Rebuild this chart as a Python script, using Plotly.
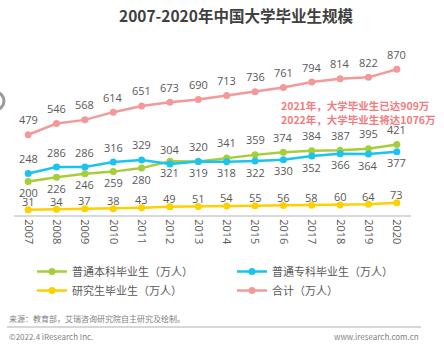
import plotly.graph_objects as go

years = [str(y) for y in range(2007, 2021)]
benke = [200, 226, 246, 259, 280, 321, 319, 341, 359, 374, 384, 387, 395, 421]
zhuanke = [248, 286, 286, 316, 329, 304, 320, 318, 322, 330, 352, 366, 364, 377]
yanjiusheng = [31, 34, 37, 38, 43, 49, 51, 54, 55, 56, 58, 60, 64, 73]
total = [479, 546, 568, 614, 651, 673, 690, 713, 736, 761, 794, 814, 822, 870]

names = ["普通本科毕业生（万人）", "普通专科毕业生（万人）", "研究生毕业生（万人）", "合计（万人）"]
colors = ["#A6CE39", "#1BC3EF", "#FFD000", "#F4999A"]
series = [benke, zhuanke, yanjiusheng, total]
legend_ids = ["legend", "legend2", "legend", "legend2"]

W, H = 444, 350
L, R, T, B = 14, 33, 45, 135
pw, ph = W - L - R, H - T - B

fig = go.Figure()
for nm, col, vals, lg in zip(names, colors, series, legend_ids):
    fig.add_trace(go.Scatter(
        x=years, y=vals, name=nm, mode="lines+markers", legend=lg,
        line=dict(color=col, width=2.5), marker=dict(color=col, size=7),
        hoverinfo="skip"))

lab_font = dict(family="Open Sans, Noto Sans CJK SC", size=11, color="#595959")
ann = []
for i, yr in enumerate(years):
    ann.append(dict(x=i, y=total[i], text=str(total[i]), showarrow=False, yshift=15, font=lab_font))
    above_blue = i <= 6
    ann.append(dict(x=i, y=zhuanke[i], text=str(zhuanke[i]), showarrow=False,
                    yshift=15 if above_blue else -11, font=lab_font))
    ann.append(dict(x=i, y=benke[i], text=str(benke[i]), showarrow=False,
                    yshift=-11 if above_blue else 15, font=lab_font))
    ann.append(dict(x=i, y=yanjiusheng[i], text=str(yanjiusheng[i]), showarrow=False,
                    yshift=8, font=lab_font))

def px(x):
    return (x - L) / pw

def py(y):
    return (H - B - y) / ph

ann.append(dict(xref="paper", yref="paper", x=px(438), y=py(112), xanchor="right", yanchor="middle",
                text="<b>2021年，大学毕业生已达909万<br>2022年，大学毕业生将达1076万</b>",
                showarrow=False, align="left",
                font=dict(family="Noto Sans CJK SC", size=10.5, color="#EF7D7E")))
ann.append(dict(xref="paper", yref="paper", x=px(236), y=py(15), xanchor="center", yanchor="middle",
                text="<b>2007-2020年中国大学毕业生规模</b>", showarrow=False,
                font=dict(family="Noto Sans CJK SC", size=15.5, color="#404040")))
foot = dict(family="Noto Sans CJK SC", size=8, color="#7F7F7F")
ann.append(dict(xref="paper", yref="paper", x=px(7), y=py(318), xanchor="left", yanchor="middle",
                text="来源：教育部，艾瑞咨询研究院自主研究及绘制。", showarrow=False, font=foot))
ann.append(dict(xref="paper", yref="paper", x=px(7), y=py(336), xanchor="left", yanchor="middle",
                text="©2022.4 iResearch Inc.", showarrow=False, font=foot))
ann.append(dict(xref="paper", yref="paper", x=px(421), y=py(336), xanchor="right", yanchor="middle",
                text="www.iresearch.com.cn", showarrow=False, font=foot))

shapes = [
    dict(type="line", xref="paper", yref="paper", x0=px(7), x1=px(421), y0=py(327), y1=py(327),
         line=dict(color="#B0B0B0", width=1.2)),
    dict(type="circle", xref="paper", yref="paper", x0=px(-14), x1=px(4), y0=py(110), y1=py(92),
         line=dict(color="#9A9A9A", width=3)),
]

leg_common = dict(orientation="v", xanchor="left", yanchor="top", itemwidth=30,
                  font=dict(family="Noto Sans CJK SC", size=11, color="#595959"),
                  tracegroupgap=0, bgcolor="rgba(0,0,0,0)")

fig.update_layout(
    width=W, height=H,
    margin=dict(l=L, r=R, t=T, b=B),
    paper_bgcolor="white", plot_bgcolor="white",
    showlegend=True,
    legend=dict(x=px(32), y=py(257), **leg_common),
    legend2=dict(x=px(232), y=py(257), **leg_common),
    annotations=ann, shapes=shapes,
    xaxis=dict(type="category", range=[-0.5, 13.5], showgrid=False, zeroline=False,
               showline=True, linecolor="#D9D9D9", linewidth=2, ticks="",
               tickangle=90, tickfont=dict(family="Open Sans", size=11, color="#595959")),
    yaxis=dict(range=[0, 1015], visible=False, showgrid=False, zeroline=False),
)

fig.write_html("out.html")
